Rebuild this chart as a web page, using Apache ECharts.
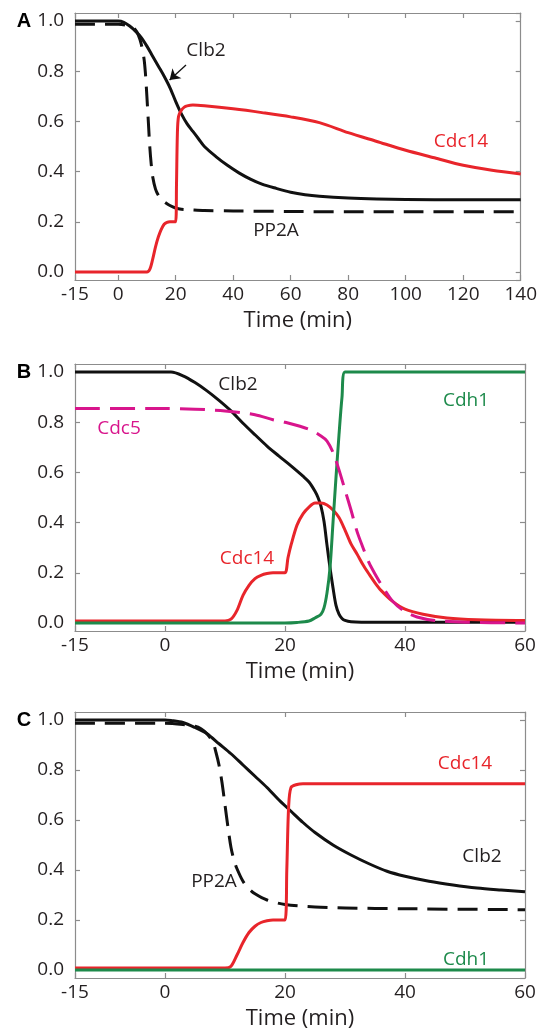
<!DOCTYPE html>
<html>
<head>
<meta charset="utf-8">
<script src="https://cdn.jsdelivr.net/npm/echarts@6/dist/echarts.min.js"></script>
<style>
html, body { margin: 0; padding: 0; background: #fff; }
#chart { width: 540px; height: 1031px; }
</style>
</head>
<body>
<div id="chart"></div>
<script>
// ---- Panel A: wild type, long time course (min) ----
const tA_clb2 = [-15, 0, 2, 4, 6, 8, 10, 12, 14, 16, 18, 20, 22, 24, 26, 28, 30, 34, 38, 42, 46, 50, 55, 60, 65, 70, 80, 90, 100, 120, 140];
const vA_clb2 = [1.0, 1.0, 0.995, 0.98, 0.96, 0.935, 0.9, 0.86, 0.82, 0.78, 0.735, 0.68, 0.63, 0.59, 0.56, 0.53, 0.5, 0.46, 0.425, 0.395, 0.37, 0.35, 0.333, 0.318, 0.308, 0.302, 0.295, 0.291, 0.289, 0.288, 0.288];

const tA_pp2a = [-15, 0, 4, 6, 7, 8, 9, 9.5, 10, 10.5, 11, 11.5, 12, 13, 14, 15, 16, 18, 20, 22, 25, 30, 40, 60, 80, 100, 140];
const vA_pp2a = [0.987, 0.987, 0.98, 0.965, 0.945, 0.91, 0.85, 0.79, 0.7, 0.6, 0.5, 0.43, 0.38, 0.33, 0.305, 0.29, 0.28, 0.265, 0.255, 0.25, 0.248, 0.245, 0.243, 0.241, 0.24, 0.24, 0.24];

const tA_cdc14 = [-15, 10, 11, 12, 13, 14, 15, 16, 17, 18, 19, 20, 20.3, 20.6, 21, 22, 23, 24, 26, 30, 40, 50, 60, 70, 80, 90, 100, 110, 120, 130, 140];
const vA_cdc14 = [0, 0, 0.01, 0.05, 0.1, 0.14, 0.17, 0.19, 0.198, 0.2, 0.2, 0.2, 0.35, 0.55, 0.62, 0.645, 0.657, 0.662, 0.665, 0.662, 0.65, 0.635, 0.618, 0.595, 0.555, 0.52, 0.485, 0.455, 0.425, 0.405, 0.39];

// ---- Panel B ----
const tB_clb2 = [-15, 0, 1, 3, 5, 7, 9, 11, 13, 15, 17, 19, 21, 23, 24, 25, 25.5, 26, 26.5, 27, 27.5, 28, 28.5, 29, 29.5, 30, 31, 35, 60];
const vB_clb2 = [1, 1, 1, 0.985, 0.958, 0.925, 0.887, 0.845, 0.796, 0.75, 0.705, 0.665, 0.626, 0.585, 0.562, 0.525, 0.5, 0.465, 0.405, 0.31, 0.22, 0.14, 0.07, 0.035, 0.018, 0.01, 0.005, 0.003, 0.003];

const tB_cdc5 = [-15, 0, 5, 10, 15, 18, 20, 24, 26, 27, 28, 29, 30, 31, 32, 33, 34, 35, 36, 38, 40, 42, 45, 50, 60];
const vB_cdc5 = [0.855, 0.855, 0.852, 0.845, 0.83, 0.81, 0.8, 0.772, 0.745, 0.725, 0.68, 0.61, 0.53, 0.45, 0.365, 0.3, 0.24, 0.195, 0.155, 0.085, 0.045, 0.024, 0.01, 0.003, 0.0];

const tB_cdc14 = [-15, 10, 11, 12, 13, 14, 15, 16, 17, 18, 19, 20, 20.5, 21, 22, 23, 24, 25, 26, 27, 28, 29, 30, 31, 32, 33, 34, 35, 36, 38, 40, 43, 47, 52, 60];
const vB_cdc14 = [0.008, 0.008, 0.015, 0.05, 0.11, 0.15, 0.177, 0.19, 0.197, 0.2, 0.2, 0.2, 0.26, 0.31, 0.39, 0.435, 0.462, 0.478, 0.478, 0.47, 0.45, 0.42, 0.37, 0.315, 0.275, 0.232, 0.195, 0.16, 0.13, 0.085, 0.055, 0.035, 0.02, 0.013, 0.01];

const tB_cdh1 = [-15, 20, 22, 24, 25, 26, 26.5, 27, 27.5, 28, 28.5, 29, 29.5, 30, 60];
const vB_cdh1 = [0, 0, 0.002, 0.008, 0.02, 0.035, 0.06, 0.12, 0.22, 0.4, 0.58, 0.75, 0.9, 1.0, 1.0];

// ---- Panel C ----
const tC_clb2 = [-15, 0, 1, 3, 5, 7, 9, 11, 13, 15, 17, 19, 21, 23, 25, 28, 31, 34, 37, 40, 44, 48, 52, 56, 60];
const vC_clb2 = [1, 1, 0.998, 0.99, 0.97, 0.945, 0.905, 0.865, 0.82, 0.775, 0.73, 0.68, 0.635, 0.59, 0.55, 0.5, 0.46, 0.425, 0.395, 0.375, 0.355, 0.34, 0.328, 0.32, 0.313];

const tC_pp2a = [-15, 0, 3, 5, 6, 7, 8, 8.5, 9, 9.5, 10, 10.5, 11, 11.5, 12, 13, 14, 15, 17, 20, 25, 30, 40, 60];
const vC_pp2a = [0.987, 0.987, 0.982, 0.975, 0.965, 0.945, 0.91, 0.87, 0.82, 0.75, 0.66, 0.57, 0.49, 0.44, 0.405, 0.355, 0.325, 0.305, 0.28, 0.262, 0.252, 0.248, 0.245, 0.241];

const tC_cdc14 = [-15, 10, 11, 12, 13, 14, 15, 16, 17, 18, 19, 20, 20.3, 20.6, 21, 22, 23, 60];
const vC_cdc14 = [0.008, 0.008, 0.015, 0.06, 0.11, 0.15, 0.175, 0.19, 0.197, 0.2, 0.2, 0.2, 0.4, 0.65, 0.73, 0.742, 0.745, 0.745];

const tC_cdh1 = [-15, 60];
const vC_cdh1 = [0, 0];

// tick label values on the y axes
const yTicks = [0, 0.2, 0.4, 0.6, 0.8, 1.0];

const BLACK = '#111111';
const RED = '#e8252b';
const PINK = '#d8158c';
const GREEN = '#1d8a4b';
const FRAME = '#8c8c8c';
const TEXT = '#231f20';
const FONT = '"Open Sans", "Noto Sans", sans-serif';

function pts(t, v) { return t.map((x, i) => [x, v[i]]); }

function xAxesFor(gi, maxT) {
  const base = {
    gridIndex: gi, type: 'value', min: -15, max: maxT,
    minInterval: 20, maxInterval: 20,
    axisLine: { show: true, onZero: false, lineStyle: { color: FRAME, width: 1.2 } },
    axisTick: { show: true, inside: true, length: 5, lineStyle: { color: FRAME, width: 1.2 } },
    splitLine: { show: false }
  };
  return [
    Object.assign({}, base, {
      position: 'bottom',
      axisLabel: { show: true, showMinLabel: true, showMaxLabel: true, color: TEXT, fontFamily: FONT, fontSize: 19, margin: 5 },
      name: 'Time (min)', nameLocation: 'middle', nameGap: 30,
      nameTextStyle: { color: TEXT, fontFamily: FONT, fontSize: 22 }
    }),
    Object.assign({}, base, { position: 'top', axisLabel: { show: false } })
  ];
}

function yAxesFor(gi) {
  const base = {
    gridIndex: gi, type: 'value', min: -0.032, max: 1.032,
    minInterval: 0.2, maxInterval: 0.2, splitNumber: 5,
    axisLine: { show: true, onZero: false, lineStyle: { color: FRAME, width: 1.2 } },
    axisTick: { show: true, inside: true, length: 5, lineStyle: { color: FRAME, width: 1.2 } },
    splitLine: { show: false }
  };
  return [
    Object.assign({}, base, {
      position: 'left',
      axisLabel: {
        show: true, showMinLabel: false, showMaxLabel: false, color: TEXT, fontFamily: FONT, fontSize: 19, margin: 11,
        formatter: v => (yTicks.some(t => Math.abs(t - v) < 1e-6) ? v.toFixed(1) : '')
      }
    }),
    Object.assign({}, base, { position: 'right', axisLabel: { show: false } })
  ];
}

function line(gi, t, v, color, dash, z) {
  return {
    type: 'line', xAxisIndex: gi * 2, yAxisIndex: gi * 2,
    data: pts(t, v), symbol: 'none', showSymbol: false,
    smooth: 0.3, z: z || 2,
    lineStyle: { color: color, width: 3, type: dash || 'solid', cap: 'butt', join: 'round' },
    emphasis: { disabled: true }, silent: true, animation: false
  };
}

const clb2ArrowA = line(0, tA_clb2, vA_clb2, BLACK, 'solid', 3);
clb2ArrowA.markLine = {
  silent: true, animation: false, symbol: ['none', 'arrow'], symbolSize: 10,
  label: { show: false },
  lineStyle: { color: BLACK, width: 1.3, type: 'solid' },
  emphasis: { disabled: true },
  data: [[{ coord: [23.6, 0.825] }, { coord: [17.9, 0.765] }]]
};

function label(x, y, text, color) {
  return {
    type: 'text', x: x, y: y, silent: true,
    style: { text: text, fill: color, font: '19px ' + FONT, align: 'center', verticalAlign: 'middle', textAlign: 'center', textVerticalAlign: 'middle' }
  };
}
function panelLetter(x, y, text) {
  return {
    type: 'text', x: x, y: y, silent: true,
    style: { text: text, fill: '#000', font: 'bold 20px "Liberation Sans", Arial, sans-serif', align: 'center', verticalAlign: 'middle', textAlign: 'center', textVerticalAlign: 'middle' }
  };
}

const chart = echarts.init(document.getElementById('chart'), null, { renderer: 'canvas' });
chart.setOption({
  animation: false,
  backgroundColor: '#ffffff',
  grid: [
    { left: 75, top: 13, width: 450, height: 267 },
    { left: 75, top: 364, width: 450, height: 267 },
    { left: 75, top: 712, width: 450, height: 267 }
  ],
  xAxis: [].concat(xAxesFor(0, 140), xAxesFor(1, 60), xAxesFor(2, 60)),
  yAxis: [].concat(yAxesFor(0), yAxesFor(1), yAxesFor(2)),
  series: [
    line(0, tA_pp2a, vA_pp2a, BLACK, [20, 10], 2),
    clb2ArrowA,
    line(0, tA_cdc14, vA_cdc14, RED, 'solid', 4),

    line(1, tB_clb2, vB_clb2, BLACK, 'solid', 2),
    line(1, tB_cdc14, vB_cdc14, RED, 'solid', 3),
    line(1, tB_cdh1, vB_cdh1, GREEN, 'solid', 4),
    line(1, tB_cdc5, vB_cdc5, PINK, [25, 10], 5),

    line(2, tC_pp2a, vC_pp2a, BLACK, [20, 10], 2),
    line(2, tC_clb2, vC_clb2, BLACK, 'solid', 3),
    line(2, tC_cdc14, vC_cdc14, RED, 'solid', 4),
    line(2, tC_cdh1, vC_cdh1, GREEN, 'solid', 5)
  ],
  graphic: [
    panelLetter(24, 21, 'A'),
    panelLetter(24, 372, 'B'),
    panelLetter(24, 720, 'C'),
    label(206, 51, 'Clb2', TEXT),
    label(461, 142, 'Cdc14', RED),
    label(276, 231, 'PP2A', TEXT),
    label(238, 385, 'Clb2', TEXT),
    label(466, 401, 'Cdh1', GREEN),
    label(119, 429, 'Cdc5', PINK),
    label(247, 559, 'Cdc14', RED),
    label(465, 764, 'Cdc14', RED),
    label(482, 857, 'Clb2', TEXT),
    label(214, 882, 'PP2A', TEXT),
    label(466, 960, 'Cdh1', GREEN)
  ]
});
</script>
</body>
</html>
